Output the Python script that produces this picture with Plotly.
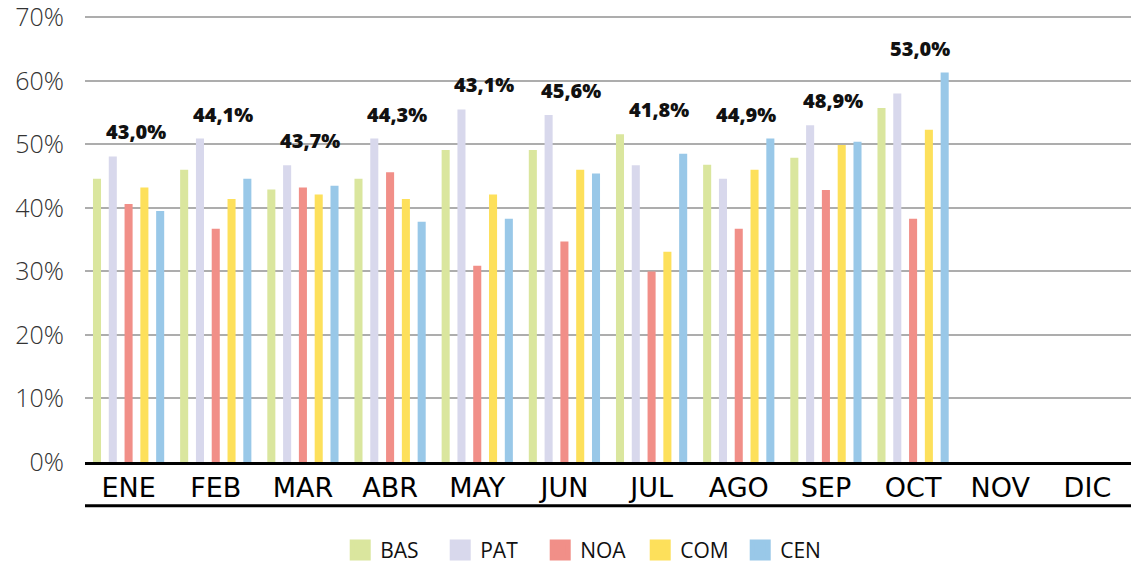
import plotly.graph_objects as go

MONTHS = ["ENE", "FEB", "MAR", "ABR", "MAY", "JUN", "JUL", "AGO", "SEP", "OCT", "NOV", "DIC"]
SERIES = ["BAS", "PAT", "NOA", "COM", "CEN"]

BAS = [44.6, 46.0, 42.9, 44.6, 49.1, 49.1, 51.6, 46.8, 47.9, 55.7]
PAT = [48.1, 50.9, 46.7, 50.9, 55.5, 54.6, 46.7, 44.6, 53.0, 58.0]
NOA = [40.6, 36.7, 43.2, 45.6, 30.9, 34.7, 30.0, 36.7, 42.8, 38.3]
COM = [43.2, 41.4, 42.1, 41.4, 42.1, 46.0, 33.1, 46.0, 49.9, 52.3]
CEN = [39.5, 44.6, 43.5, 37.8, 38.3, 45.4, 48.5, 50.9, 50.4, 61.3]

TOTAL_LABELS = ["43,0%", "44,1%", "43,7%", "44,3%", "43,1%", "45,6%", "41,8%", "44,9%", "48,9%", "53,0%"]

Y_TICKS = [0, 10, 20, 30, 40, 50, 60, 70]

COLORS = {"BAS": "#dae69e", "PAT": "#d8d8ec", "NOA": "#f18f88", "COM": "#fde05b", "CEN": "#99c8e8"}
DATA = {"BAS": BAS, "PAT": PAT, "NOA": NOA, "COM": COM, "CEN": CEN}

FONT = "Open Sans"

fig = go.Figure()
for name in SERIES:
    vals = DATA[name]
    fig.add_trace(go.Bar(
        x=MONTHS[:len(vals)], y=vals, name=name,
        marker=dict(color=COLORS[name], line=dict(width=0)),
        showlegend=False, legendgroup=name,
    ))
# legend entries (larger square symbols)
for name in SERIES:
    fig.add_trace(go.Scatter(
        x=[None], y=[None], mode="markers", name=name, legendgroup=name,
        marker=dict(symbol="square", size=16, color=COLORS[name],
                    line=dict(color=COLORS[name], width=5)),
        showlegend=True,
    ))

n = len(TOTAL_LABELS)
for i in range(n):
    top = max(DATA[s][i] for s in SERIES)
    fig.add_annotation(
        x=MONTHS[i], y=top, text=TOTAL_LABELS[i], showarrow=False,
        xanchor="center", yanchor="bottom", yshift=9, xshift=7,
        font=dict(family=FONT, size=20, color="#111111", weight=800),
    )

# lower black rule under month labels
fig.add_shape(type="line", xref="paper", yref="paper", x0=0, x1=1,
              y0=-0.0982, y1=-0.0982, line=dict(color="#000000", width=3))

fig.update_layout(
    width=1131, height=571,
    margin=dict(l=85, r=0, t=16, b=107),
    paper_bgcolor="white", plot_bgcolor="white",
    barmode="group", bargap=0.094, bargroupgap=0.49,
    showlegend=True,
    legend=dict(orientation="h", x=0.483, xanchor="center", y=-0.198, yanchor="middle",
                font=dict(family=FONT, size=21, color="#111111", weight=500),
                itemsizing="trace", entrywidth=55, entrywidthmode="pixels",
                traceorder="normal"),
    xaxis=dict(
        type="category", categoryorder="array", categoryarray=MONTHS,
        range=[-0.5, len(MONTHS) - 0.5],
        showline=True, linecolor="#000000", linewidth=3,
        showgrid=False, ticks="", zeroline=False,
        tickfont=dict(family="DejaVu Sans", size=27, color="#000000"),
        ticklabelstandoff=0,
    ),
    yaxis=dict(
        range=[0, 70.2], tickmode="array", tickvals=Y_TICKS,
        ticktext=[f"{v}%" for v in Y_TICKS],
        showgrid=True, gridcolor="#adadad", gridwidth=1.5,
        zeroline=False, showline=False, ticks="",
        tickfont=dict(family=FONT, size=25, color="#333333", weight=300),
        ticklabelstandoff=20, ticklabeloverflow="allow",
    ),
)

fig.write_html("out.html", config={"displayModeBar": False},
               post_script="document.body.style.margin='0px';")
